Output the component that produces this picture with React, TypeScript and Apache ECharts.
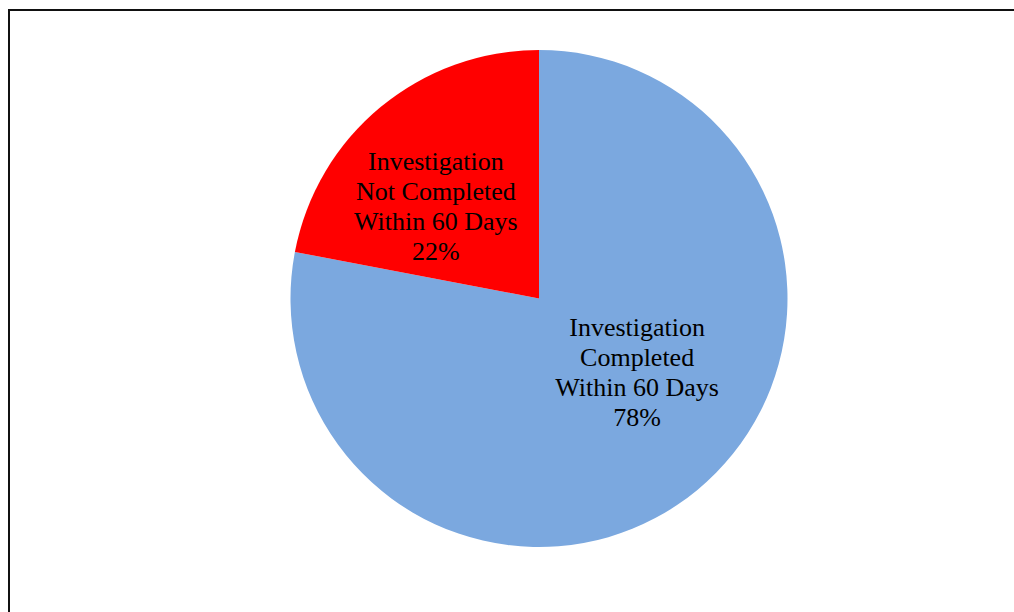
import React, { useEffect, useRef } from "react";
import * as echarts from "echarts";

const categories = [
  "Investigation\nCompleted\nWithin 60 Days",
  "Investigation\nNot Completed\nWithin 60 Days",
];
const values = [78, 22];
const colors = ["#7BA8DF", "#FF0000"];
const labelOffsets = [
  [17, -24],
  [-22, 6],
];

export default function App() {
  const ref = useRef<HTMLDivElement>(null);
  useEffect(() => {
    const chart = echarts.init(ref.current!, null, { renderer: "svg" });
    chart.setOption({
      animation: false,
      backgroundColor: "#ffffff",
      graphic: [
        {
          type: "rect",
          shape: { x: 9, y: 10, width: 1200, height: 800 },
          style: { fill: "none", stroke: "#111", lineWidth: 2 },
          silent: true,
        },
      ],
      series: [
        {
          type: "pie",
          center: [539, 298.5],
          radius: [0, 248.5],
          startAngle: 90,
          clockwise: true,
          avoidLabelOverlap: false,
          data: categories.map((name, i) => ({
            name,
            value: values[i],
            itemStyle: { color: colors[i] },
            label: { offset: labelOffsets[i] },
          })),
          label: {
            show: true,
            position: "inside",
            formatter: (p: any) => `${p.name}\n${p.value}%`,
            color: "#000",
            fontFamily: "'Liberation Serif', 'Times New Roman', serif",
            fontSize: 26,
            lineHeight: 30,
            align: "center",
          },
          labelLine: { show: false },
          itemStyle: { borderWidth: 0 },
        },
      ],
    });
    return () => chart.dispose();
  }, []);
  return (
    <div
      ref={ref}
      style={{ position: "absolute", left: 0, top: 0, width: 1014, height: 612 }}
    />
  );
}
